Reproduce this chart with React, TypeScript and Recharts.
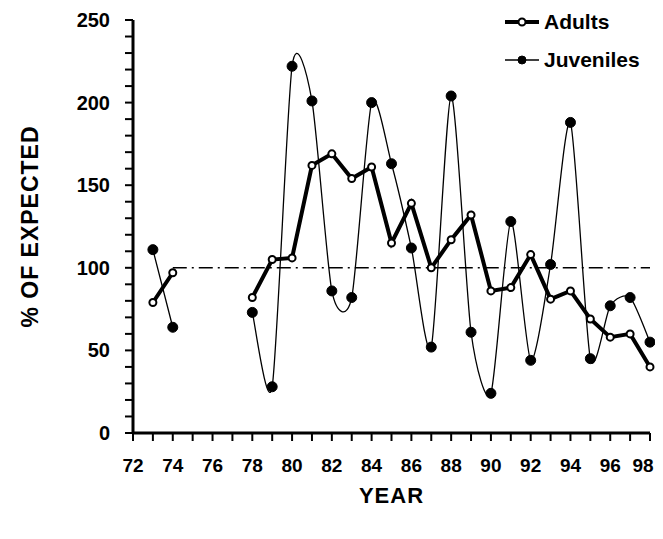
import { LineChart, Line, XAxis, YAxis, ReferenceLine, Label } from 'recharts';

const years = [73, 74, 75, 76, 77, 78, 79, 80, 81, 82, 83, 84, 85, 86, 87, 88, 89, 90, 91, 92, 93, 94, 95, 96, 97, 98];
const adults = [79, 97, null, null, null, 82, 105, 106, 162, 169, 154, 161, 115, 139, 100, 117, 132, 86, 88, 108, 81, 86, 69, 58, 60, 40];
const juveniles = [111, 64, null, null, null, 73, 28, 222, 201, 86, 82, 200, 163, 112, 52, 204, 61, 24, 128, 44, 102, 188, 45, 77, 82, 55];

const xTicks = [72, 73, 74, 75, 76, 77, 78, 79, 80, 81, 82, 83, 84, 85, 86, 87, 88, 89, 90, 91, 92, 93, 94, 95, 96, 97, 98];
const yTicks = [0, 10, 20, 30, 40, 50, 60, 70, 80, 90, 100, 110, 120, 130, 140, 150, 160, 170, 180, 190, 200, 210, 220, 230, 240, 250];

const data = years.map((year, i) => ({ year, adults: adults[i], juveniles: juveniles[i] }));

const FONT = '"Liberation Sans", Arial, sans-serif';
const CHART_W = 655;

// cardinal-ish curve for the juvenile line, bends a bit past its points
const cardinal = (context: any) => {
  let pts: number[][] = [];
  return {
    areaStart() {},
    areaEnd() {},
    lineStart() {
      pts = [];
    },
    point(x: number, y: number) {
      pts.push([+x, +y]);
    },
    lineEnd() {
      if (!pts.length) return;
      context.moveTo(pts[0][0], pts[0][1]);
      if (pts.length === 2) {
        context.lineTo(pts[1][0], pts[1][1]);
        return;
      }
      const k = 0.12;
      for (let i = 0; i < pts.length - 1; i++) {
        const p0 = pts[i - 1] || pts[i];
        const p1 = pts[i];
        const p2 = pts[i + 1];
        const p3 = pts[i + 2] || p2;
        context.bezierCurveTo(
          p1[0] + (p2[0] - p0[0]) * k,
          p1[1] + (p2[1] - p0[1]) * k,
          p2[0] - (p3[0] - p1[0]) * k,
          p2[1] - (p3[1] - p1[1]) * k,
          p2[0],
          p2[1]
        );
      }
    },
  };
};

const XTick = (props: any) => {
  const { x, y, payload } = props;
  // keep the last label inside the visible page
  const tx = Math.min(x, CHART_W - 20);
  return (
    <g>
      <line x1={x} x2={x} y1={y - 8} y2={y} stroke="#000" strokeWidth={2} />
      {payload.value % 2 === 0 && (
        <text x={tx} y={y + 24} textAnchor="middle" dominantBaseline="central" fontSize={19} fontWeight="bold" fontFamily={FONT} fill="#000">
          {payload.value}
        </text>
      )}
    </g>
  );
};

const YTick = (props: any) => {
  const { x, y, payload } = props;
  return (
    <g>
      <line x1={x} x2={x + 8} y1={y} y2={y} stroke="#000" strokeWidth={2} />
      {payload.value % 50 === 0 && (
        <text x={x - 15} y={y} textAnchor="end" dominantBaseline="central" fontSize={20} fontWeight="bold" fontFamily={FONT} fill="#000">
          {payload.value}
        </text>
      )}
    </g>
  );
};

const legendItems = [
  { name: 'Adults', open: true },
  { name: 'Juveniles', open: false },
];

export default function App() {
  return (
    <div style={{ position: 'relative', width: CHART_W, height: 520 }}>
      <LineChart width={CHART_W} height={520} data={data} margin={{ top: 12, right: 13, bottom: 0, left: 0 }}>
        <XAxis
          dataKey="year"
          type="number"
          domain={[72, 98]}
          ticks={xTicks}
          interval={0}
          height={95}
          axisLine={{ stroke: '#000', strokeWidth: 3 }}
          tickLine={false}
          tick={<XTick />}
        >
          <Label
            content={(p: any) => (
              <text x={p.viewBox.x + p.viewBox.width / 2} y={p.viewBox.y + 62} textAnchor="middle" dominantBaseline="central" fontSize={22} letterSpacing={1} fontWeight="bold" fontFamily={FONT} fill="#000">
                YEAR
              </text>
            )}
          />
        </XAxis>
        <YAxis
          type="number"
          domain={[0, 250]}
          ticks={yTicks}
          interval={0}
          width={125}
          axisLine={{ stroke: '#000', strokeWidth: 3 }}
          tickLine={false}
          tick={<YTick />}
        >
          <Label
            content={(p: any) => {
              const cy = p.viewBox.y + p.viewBox.height / 2;
              return (
                <text x={22} y={cy} transform={`rotate(-90 22 ${cy})`} textAnchor="middle" dominantBaseline="central" fontSize={23} letterSpacing={1} fontWeight="bold" fontFamily={FONT} fill="#000">
                  % OF EXPECTED
                </text>
              );
            }}
          />
        </YAxis>
        <ReferenceLine
          segment={[{ x: 74, y: 100 }, { x: 98, y: 100 }]}
          stroke="#000"
          strokeWidth={1.5}
          strokeDasharray="14 5 2 5"
        />
        <Line
          dataKey="juveniles"
          type={cardinal as any}
          stroke="#000"
          strokeWidth={1.3}
          dot={{ r: 5, fill: '#000', stroke: '#000', strokeWidth: 1 }}
          isAnimationActive={false}
        />
        <Line
          dataKey="adults"
          type="linear"
          stroke="#000"
          strokeWidth={4}
          dot={{ r: 3.5, fill: '#fff', stroke: '#000', strokeWidth: 2 }}
          isAnimationActive={false}
        />
      </LineChart>
      <div style={{ position: 'absolute', left: 494, top: -5, fontFamily: FONT, fontWeight: 'bold', fontSize: 21 }}>
        {legendItems.map((item) => (
          <div key={item.name} style={{ display: 'flex', alignItems: 'center', height: 38 }}>
            <svg width={40} height={20}>
              <line x1={3} x2={37} y1={10} y2={10} stroke="#000" strokeWidth={item.open ? 4 : 1.5} />
              <circle cx={20} cy={10} r={item.open ? 3.5 : 4} fill={item.open ? '#fff' : '#000'} stroke="#000" strokeWidth={item.open ? 2 : 1} />
            </svg>
            <span style={{ marginLeft: 2 }}>{item.name}</span>
          </div>
        ))}
      </div>
    </div>
  );
}
